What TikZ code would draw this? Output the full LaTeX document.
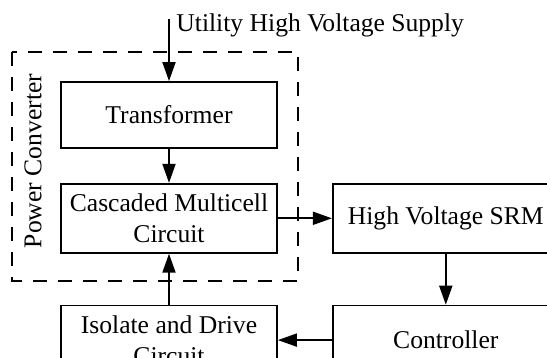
\documentclass[tikz,border=0pt]{standalone}
\usepackage{fontspec}
\setmainfont{Liberation Serif}
\usetikzlibrary{arrows.meta, positioning}

\begin{document}
\begin{tikzpicture}[
    x=0.5pt, y=-0.5pt,
    font=\fontsize{12.8}{15.5}\selectfont,
    block/.style={draw, line width=0.9pt, minimum width=108pt,
                  minimum height=34.5pt, align=center, inner sep=2pt},
    arr/.style={-{Triangle[length=9.5pt, width=6.5pt]}, line width=0.9pt},
    frame/.style={dash pattern=on 7pt off 5.5pt, line width=0.9pt}
]
\useasboundingbox (0,0) rectangle (547,358);
\clip (0,0) rectangle (547,358);
% Left column
\node[block, minimum height=33pt] (trans) at (169,115) {Transformer};
\node[block, below=17pt of trans] (casc) {Cascaded Multicell\\Circuit};
\node[block, below=25.5pt of casc] (iso) {Isolate and Drive\\Circuit};
% Right column
\node[block, minimum width=113pt, right=27pt of casc] (srm) {High Voltage SRM};
\node[block, minimum width=113pt, below=25.5pt of srm] (ctrl) {Controller};
% Supply input
\coordinate[above=31pt of trans.north] (supply);
\node[anchor=base west, inner sep=0pt] (supplylbl) at (176,32) {Utility High Voltage Supply};
% Converter frame
\draw[frame] (12,52) rectangle (298,281);
\node[rotate=90] (pclbl) at (33,161) {Power Converter};
% Arrows
\draw[arr] (supply) -- (trans);
\draw[arr] (trans) -- (casc);
\draw[arr] (casc) -- (srm);
\draw[arr] (srm) -- (ctrl);
\draw[arr] (ctrl) -- (iso);
\draw[arr] (iso) -- (casc);
\end{tikzpicture}
\end{document}
